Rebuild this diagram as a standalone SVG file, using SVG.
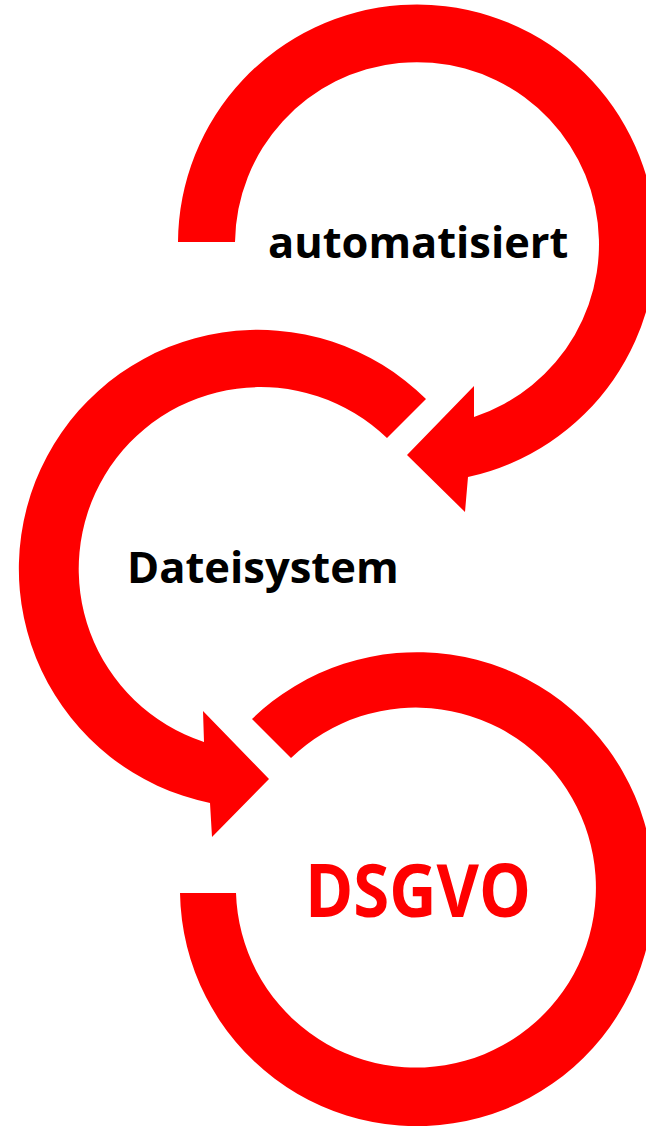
<svg xmlns="http://www.w3.org/2000/svg" width="646" height="1126" viewBox="0 0 646 1126">
<style>
.arc{fill:#ff0000;stroke:none}
.lbl{font-family:"Open Sans","Noto Sans","Liberation Sans",sans-serif;font-weight:bold;fill:#000000}
.big{font-family:"Open Sans","Noto Sans","Liberation Sans",sans-serif;font-weight:bold;fill:#ff0000}
</style>
<rect width="646" height="1126" fill="#ffffff"/>
<g id="connectors">
<path id="arrow-top" class="arc" d="M 178 242 A 239 239 0 1 1 468 477 L 465 512 L 407 455 L 474 386 L 474 417 A 182 182 0 1 0 235 242 Z"/>
<path id="arrow-middle" class="arc" d="M 426 399 A 239 239 0 1 0 210 803 L 212 837 L 269 779 L 203 711 L 204 742 A 182 182 0 1 1 387 438 Z"/>
<path id="arc-bottom" class="arc" d="M 252 719 A 237 237 0 1 1 180 893 L 236 893 A 180 180 0 1 0 291 758 Z"/>
</g>
<g id="node-automatisiert">
<text class="lbl" x="268" y="258" font-size="43.4">automatisiert</text>
</g>
<g id="node-dateisystem">
<text class="lbl" x="127" y="583" font-size="43.5">Dateisystem</text>
</g>
<g id="node-dsgvo">
<text class="big" x="305" y="917" font-size="73" textLength="226" lengthAdjust="spacingAndGlyphs">DSGVO</text>
</g>
</svg>
